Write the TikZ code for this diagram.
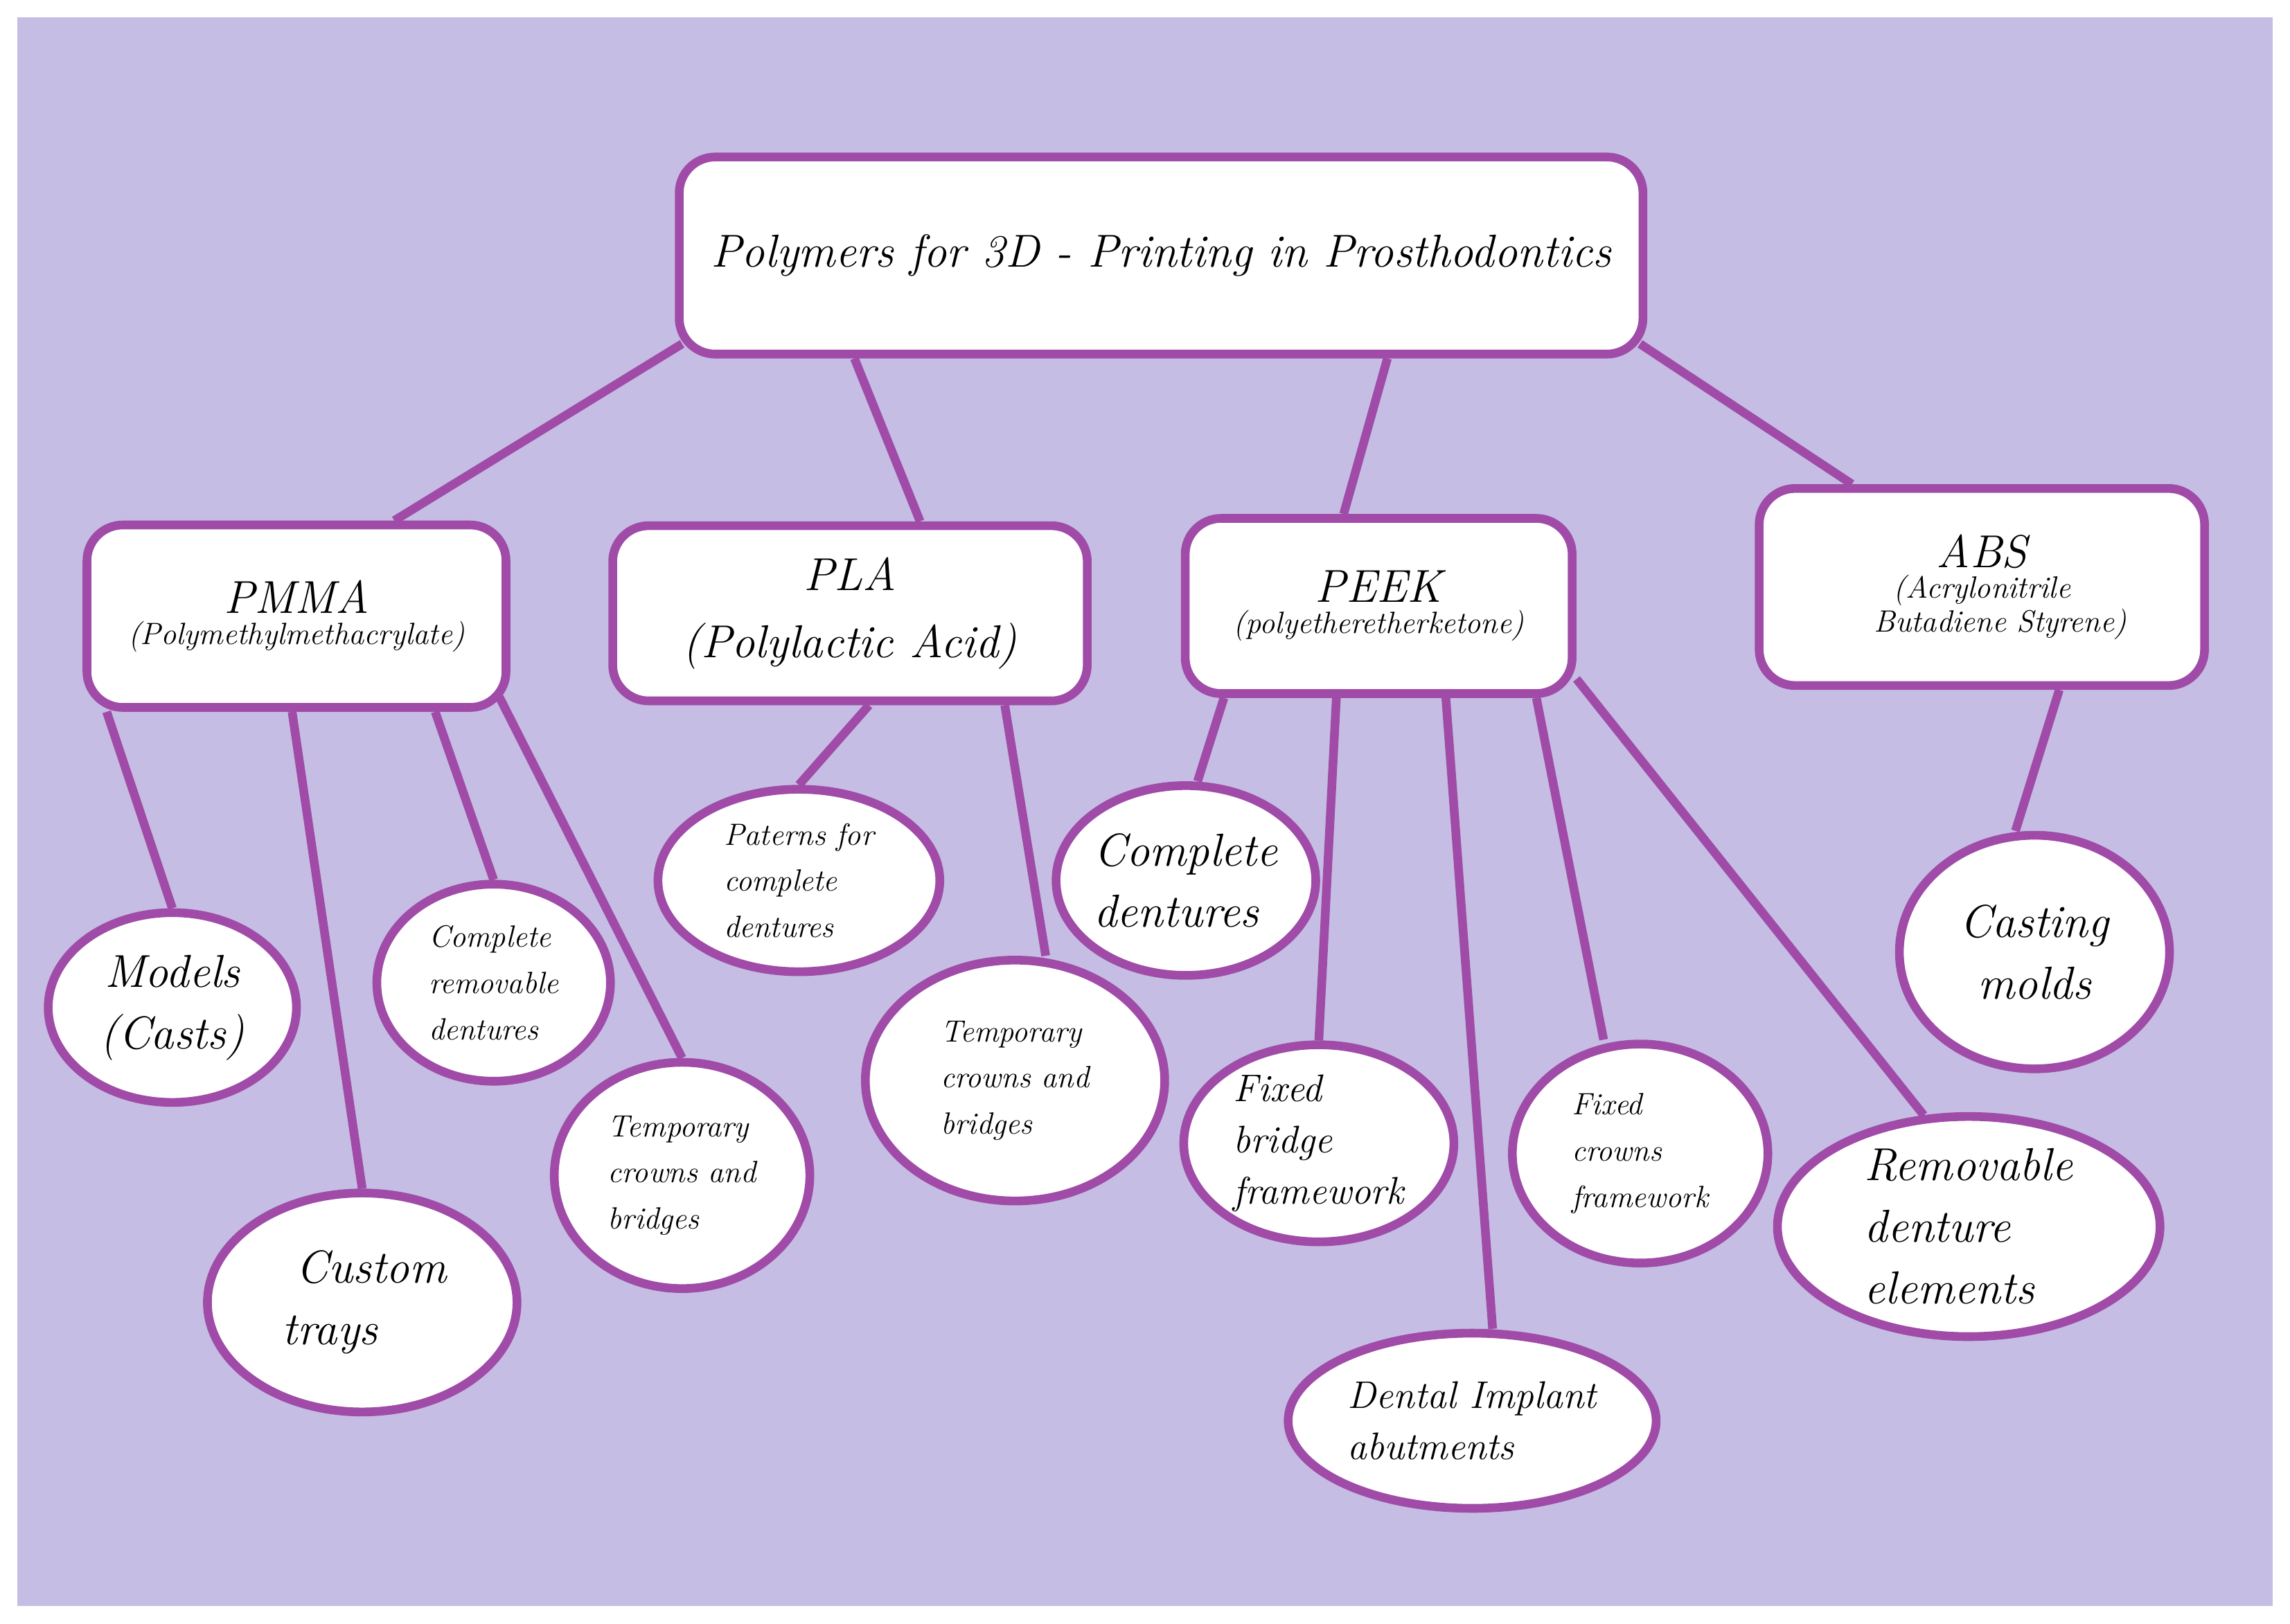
\documentclass[tikz,border=0pt]{standalone}
\usepackage{tikz}
\usetikzlibrary{positioning,shapes.geometric}
\definecolor{bgpurple}{HTML}{C5BDE3}
\definecolor{edgepurple}{HTML}{A04BA8}
\newcommand{\fbig}{\fontsize{18}{24}\selectfont}
\newcommand{\fmid}{\fontsize{15}{20}\selectfont}
\newcommand{\fsml}{\fontsize{12}{18}\selectfont}
\begin{document}
\begin{tikzpicture}[x=0.02cm,y=-0.02cm,
  box/.style={draw=edgepurple,line width=3.4pt,fill=white,rounded corners=14pt,
    align=center,font=\itshape,inner sep=2pt},
  leaf/.style={ellipse,draw=edgepurple,line width=3.4pt,fill=white,align=left,
    font=\itshape,inner sep=0pt},
  link/.style={draw=edgepurple,line width=3.4pt}]
\useasboundingbox (0,0) rectangle (1568,1112);
\fill[bgpurple] (12,12) rectangle (1556,1100);
% top node
\node[box,minimum width=13.2cm,minimum height=2.7cm,font=\itshape\fbig] (title) at (795,175) {Polymers for 3D - Printing in Prosthodontics};
% polymers
\node[box,minimum width=5.74cm,minimum height=2.5cm] (pmma) at (203,422)
  {\fbig PMMA\\\fsml(Polymethylmethacrylate)};
\node[box,minimum width=6.5cm,minimum height=2.4cm,font=\itshape\fbig] (pla) at (582,420)
  {PLA\\[2pt](Polylactic Acid)};
\node[box,minimum width=5.3cm,minimum height=2.4cm] (peek) at (944,415)
  {\fbig PEEK\\\fsml(polyetheretherketone)};
\node[box,minimum width=6.1cm,minimum height=2.7cm] (abs) at (1357,402)
  {\fbig ABS\\\fsml(Acrylonitrile\\\fsml\hspace*{1.2em}Butadiene Styrene)};
% uses
\node[leaf,minimum width=3.4cm,minimum height=2.6cm,font=\itshape\fbig,align=center] (models) at (118,690) {Models\\(Casts)};
\node[leaf,minimum width=4.24cm,minimum height=3.0cm,font=\itshape\fbig] (trays) at (248,892) {\hspace*{0.4em}Custom\\\hspace*{0.1em}trays};
\node[leaf,minimum width=3.2cm,minimum height=2.7cm,font=\itshape\fsml] (compl) at (338,673) {Complete\\removable\\dentures};
\node[leaf,minimum width=3.5cm,minimum height=3.1cm,font=\itshape\fsml] (tempa) at (467,805) {Temporary\\crowns and\\bridges};
\node[leaf,minimum width=3.86cm,minimum height=2.5cm,font=\itshape\fsml] (patern) at (547,603) {Paterns for\\complete\\dentures};
\node[leaf,minimum width=4.1cm,minimum height=3.3cm,font=\itshape\fsml] (tempb) at (695,740) {Temporary\\crowns and\\bridges};
\node[leaf,minimum width=3.1cm,minimum height=2.6cm,font=\itshape\fbig] (dent) at (812,603) {Complete\\dentures};
\node[leaf,minimum width=3.7cm,minimum height=2.7cm,font=\itshape\fmid] (bridge) at (903,783) {Fixed\\bridge\\framework};
\node[leaf,minimum width=5.04cm,minimum height=2.4cm,font=\itshape\fmid] (implant) at (1008,973) {Dental Implant\\abutments};
\node[leaf,minimum width=3.5cm,minimum height=3.0cm,font=\itshape\fsml] (crowns) at (1123,790) {Fixed\\crowns\\framework};
\node[leaf,minimum width=5.24cm,minimum height=3.0cm,font=\itshape\fbig] (remov) at (1348,840) {Removable\\denture\\elements};
\node[leaf,minimum width=3.7cm,minimum height=3.2cm,font=\itshape\fbig,align=center] (cast) at (1393,652) {Casting\\molds};
% connectors
\path[link] ([xshift=0.1cm,yshift=0.2cm]title.south west) -- ([xshift=1.34cm]pmma.north);
\path[link] ([xshift=-4.2cm]title.south) -- ([xshift=0.96cm]pla.north);
\path[link] ([xshift=3.1cm]title.south) -- ([xshift=-0.48cm]peek.north);
\path[link] ([xshift=-0.1cm,yshift=0.2cm]title.south east) -- ([xshift=-1.78cm]abs.north);
\path[link] ([xshift=-2.6cm]pmma.south) -- (models.north);
\path[link] ([xshift=-0.06cm]pmma.south) -- (trays.north);
\path[link] ([xshift=1.9cm]pmma.south) -- (compl.north);
\path[link] ([xshift=2.78cm,yshift=0.2cm]pmma.south) -- (tempa.north);
\path[link] ([xshift=0.26cm]pla.south) -- (patern.north);
\path[link] ([xshift=2.12cm]pla.south) -- ([xshift=0.42cm]tempb.north);
\path[link] ([xshift=-2.12cm]peek.south) -- ([xshift=0.16cm]dent.north);
\path[link] ([xshift=-0.58cm]peek.south) -- (bridge.north);
\path[link] ([xshift=0.92cm]peek.south) -- ([xshift=0.28cm]implant.north);
\path[link] ([xshift=2.16cm]peek.south) -- ([xshift=-0.5cm]crowns.north);
\path[link] ([yshift=0.26cm]peek.south east) -- (remov.112);
\path[link] ([xshift=1.06cm]abs.south) -- ([xshift=-0.26cm]cast.north);
\end{tikzpicture}
\end{document}
